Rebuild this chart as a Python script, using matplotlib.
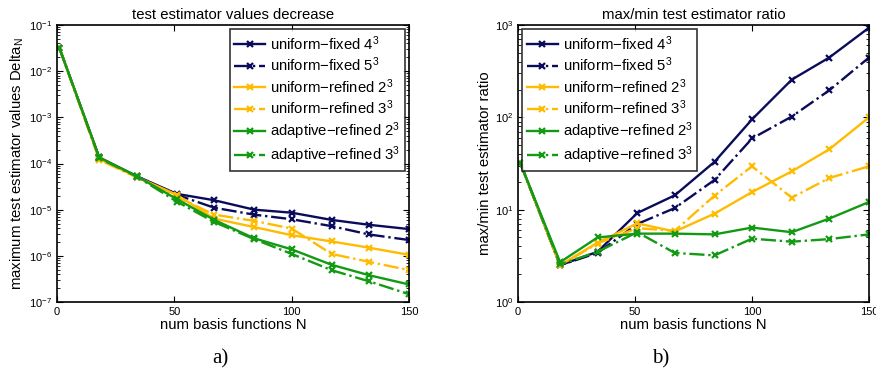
import numpy as np
import matplotlib
matplotlib.use("Agg")
import matplotlib.pyplot as plt

plt.rcParams['font.family'] = ['Liberation Sans', 'DejaVu Sans']
plt.rcParams['mathtext.default'] = 'regular'
plt.rcParams['xtick.direction'] = 'in'
plt.rcParams['ytick.direction'] = 'in'

# number of basis functions
N = [1, 18, 34, 51, 67, 84, 100, 117, 133, 150]

# panel a) maximum test estimator values
delta_fixed4 = [3.2e-2, 1.35e-4, 5.3e-5, 2.2e-5, 1.6e-5, 1.0e-5, 8.6e-6, 6.0e-6, 4.7e-6, 3.8e-6]
delta_fixed5 = [3.2e-2, 1.3e-4, 5.2e-5, 2.1e-5, 1.1e-5, 7.8e-6, 6.2e-6, 4.4e-6, 2.9e-6, 2.2e-6]
delta_ref2 = [3.2e-2, 1.25e-4, 5.1e-5, 2.1e-5, 6.4e-6, 4.2e-6, 2.8e-6, 2.05e-6, 1.5e-6, 1.05e-6]
delta_ref3 = [3.2e-2, 1.2e-4, 5.0e-5, 1.9e-5, 7.8e-6, 5.7e-6, 3.9e-6, 1.1e-6, 7.4e-7, 4.9e-7]
delta_ada2 = [3.2e-2, 1.35e-4, 5.3e-5, 1.7e-5, 6.0e-6, 2.4e-6, 1.38e-6, 6.4e-7, 3.8e-7, 2.4e-7]
delta_ada3 = [3.2e-2, 1.3e-4, 5.2e-5, 1.5e-5, 5.4e-6, 2.3e-6, 1.1e-6, 4.9e-7, 2.8e-7, 1.48e-7]

# panel b) max/min test estimator ratio
ratio_fixed4 = [32, 2.5, 3.5, 9.2, 14.3, 33, 95, 256, 444, 935]
ratio_fixed5 = [32, 2.5, 3.4, 7.0, 10.4, 21, 59, 102, 196, 444]
ratio_ref2 = [32, 2.5, 4.4, 7.1, 5.8, 9.05, 15.5, 26, 45, 100]
ratio_ref3 = [32, 2.5, 4.3, 6.3, 5.9, 14.2, 29.5, 13.5, 22, 29.5]
ratio_ada2 = [32, 2.7, 5.0, 5.5, 5.5, 5.4, 6.4, 5.7, 8.0, 12.1]
ratio_ada3 = [32, 2.55, 3.5, 5.7, 3.4, 3.2, 4.85, 4.5, 4.8, 5.4]

labels = ['uniform\u2212fixed $4^3$', 'uniform\u2212fixed $5^3$',
          'uniform\u2212refined $2^3$', 'uniform\u2212refined $3^3$',
          'adaptive\u2212refined $2^3$', 'adaptive\u2212refined $3^3$']
colors = ['#0b0b5c', '#0b0b5c', '#ffbb00', '#ffbb00', '#139a13', '#139a13']
styles = ['-', '-.', '-', '-.', '-', '-.']

fig = plt.figure(figsize=(8.76, 3.83), dpi=100)
ax1 = fig.add_axes([0.0651, 0.2115, 0.4018, 0.7232])
ax2 = fig.add_axes([0.5913, 0.2115, 0.4007, 0.7232])

left_data = [delta_fixed4, delta_fixed5, delta_ref2, delta_ref3, delta_ada2, delta_ada3]
right_data = [ratio_fixed4, ratio_fixed5, ratio_ref2, ratio_ref3, ratio_ada2, ratio_ada3]

for ax, data in [(ax1, left_data), (ax2, right_data)]:
    for vals, lab, c, ls in zip(data, labels, colors, styles):
        ax.semilogy(N, vals, linestyle=ls, color=c, lw=1.7, marker='x',
                    ms=4.5, mew=1.6, label=lab)
    ax.set_xlim(0, 150)
    ax.set_xticks([0, 50, 100, 150])
    ax.tick_params(which='both', top=True, right=True, labelsize=8)
    ax.tick_params(which='major', length=4)
    ax.tick_params(which='minor', length=2)
    for s in ax.spines.values():
        s.set_linewidth(1.2)
    ax.set_xlabel('num basis functions N', fontsize=10.7, labelpad=1)

legend_kw = dict(fontsize=10.7, frameon=True, fancybox=False, edgecolor='black',
                 handlelength=2.1, handletextpad=0.3, borderpad=0.3,
                 labelspacing=0.2, borderaxespad=0.3)

ax1.set_ylim(1e-7, 1e-1)
ax1.set_title('test estimator values decrease', fontsize=10.7, pad=4)
ax1.set_ylabel('maximum test estimator values Delta$_N$', fontsize=10.7, labelpad=2)
ax1.legend(loc='upper right', **legend_kw)

ax2.set_ylim(1, 1000)
ax2.set_title('max/min test estimator ratio', fontsize=10.7, pad=4)
ax2.set_ylabel('max/min test estimator ratio', fontsize=10.7, labelpad=2)
ax2.legend(loc='upper left', **legend_kw)

for ax in (ax1, ax2):
    ax.get_legend().get_frame().set_linewidth(1.2)

fig.text(0.251, 0.05, 'a)', fontsize=15, family='Liberation Serif', ha='center')
fig.text(0.754, 0.05, 'b)', fontsize=15, family='Liberation Serif', ha='center')

fig.savefig('out.png', dpi=100)
